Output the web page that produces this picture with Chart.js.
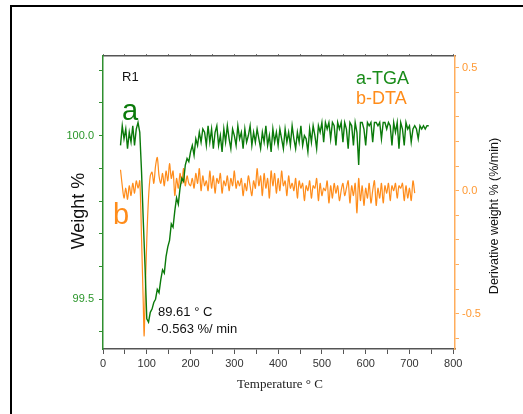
<!DOCTYPE html>
<html><head><meta charset="utf-8">
<script src="https://cdn.jsdelivr.net/npm/chart.js@4.4.1/dist/chart.umd.min.js"></script>
<style>html,body{margin:0;padding:0;background:#fff;}canvas{display:block;}</style>
</head><body>
<canvas id="c" width="523" height="414"></canvas>
<script>
// Temperature (°C) sample points
const temperature = [
  40,44,48,52,56,60,64,68,72,76,
  80,84,88,92,94,96,100,104,108,112,116,
  120,124,128,132,136,140,144,148,152,156,
  160,164,168,172,176,180,184,188,192,196,
  200,204,208,212,216,220,224,228,232,236,
  240,244,248,252,256,260,264,268,272,276,
  280,284,288,292,296,300,304,308,312,316,
  320,324,328,332,336,340,344,348,352,356,
  360,364,368,372,376,380,384,388,392,396,
  400,404,408,412,416,420,424,428,432,436,
  440,444,448,452,456,460,464,468,472,476,
  480,484,488,492,496,500,504,508,512,516,
  520,524,528,532,536,540,544,548,552,556,
  560,564,568,572,576,580,584,588,592,596,
  600,604,608,612,616,620,624,628,632,636,
  640,644,648,652,656,660,664,668,672,676,
  680,684,688,692,696,700,704,708,712,716,
  720,724,728,732,736,740,744
];
// a-TGA : Weight %
const tgaWeight = [
  99.97,100.03,99.99,100.02,99.96,100.01,99.98,100.03,99.97,100.02,
  100.04,100.01,99.89,99.74,99.67,99.60,99.44,99.43,99.46,99.47,99.49,
  99.50,99.53,99.52,99.56,99.59,99.58,99.63,99.66,99.68,99.73,
  99.72,99.77,99.81,99.79,99.84,99.87,99.86,99.91,99.93,99.92,
  99.95,99.97,99.94,99.99,99.97,100.01,99.98,100.02,100.01,99.97,
  100.03,99.98,100.02,99.96,100.01,100.03,99.97,100.00,99.95,100.02,
  99.98,100.03,99.99,99.96,100.02,100.00,99.97,100.03,99.99,100.01,
  99.96,100.02,99.98,100.00,100.03,99.97,100.01,99.98,100.02,99.99,
  99.96,100.01,99.98,100.03,99.97,100.00,99.95,100.02,99.98,100.01,
  99.97,100.02,99.99,99.96,100.02,99.98,100.01,99.97,100.03,99.99,
  99.96,100.01,99.98,100.03,99.97,100.00,99.99,99.95,100.02,99.98,
  100.03,100.00,99.96,100.03,100.01,100.04,99.98,100.04,100.02,100.04,
  99.99,100.04,100.03,99.97,100.04,100.02,100.04,99.98,100.04,100.02,
  99.96,100.04,100.03,99.97,100.04,100.01,99.91,100.04,100.04,100.02,
  99.97,100.04,100.03,100.04,99.98,100.04,100.04,100.03,100.04,99.99,
  100.04,100.04,100.02,100.04,100.03,99.97,100.04,100.01,100.04,99.96,
  100.04,100.02,99.97,100.04,100.02,100.03,99.98,100.02,100.03,100.02,
  99.99,100.03,100.02,100.03,100.02,100.03,100.03
];
// b-DTA : Derivative weight % (%/min)
const dtaDeriv = [
  0.085,0.02,-0.03,0.01,-0.035,0.02,-0.02,0.03,-0.01,0.04,
  0.01,0.04,-0.19,-0.46,-0.59,-0.45,-0.20,-0.03,0.06,0.075,0.03,
  0.10,0.135,0.06,0.03,0.07,0.02,0.08,0.04,0.11,0.05,
  0.08,-0.02,0.05,0.01,0.07,0.03,0.09,0.02,0.06,0.03,
  0.02,0.05,0.01,0.07,0.03,0.09,0.00,0.06,0.02,0.04,
  0.00,0.08,0.01,0.06,-0.01,0.05,0.03,0.07,-0.01,0.04,
  0.02,0.06,0.00,0.05,0.02,0.08,0.01,0.04,0.02,0.05,
  -0.02,0.03,0.00,0.06,0.02,-0.02,0.04,0.01,0.09,0.02,
  0.06,-0.02,0.07,0.01,0.05,-0.03,0.08,0.02,0.07,-0.01,
  0.05,0.00,0.08,0.02,0.04,-0.02,0.06,0.01,0.03,0.00,
  0.05,-0.03,0.04,0.01,0.03,-0.04,0.02,0.00,0.04,-0.03,
  0.02,0.01,0.05,-0.04,0.03,-0.02,0.01,0.00,0.04,-0.05,
  0.02,-0.03,0.03,-0.01,0.02,-0.04,0.00,0.03,-0.02,0.01,
  0.04,-0.05,0.02,-0.02,0.03,-0.09,0.05,-0.04,0.02,-0.06,
  0.01,-0.03,0.03,-0.05,0.00,0.04,-0.06,0.01,-0.03,0.03,
  -0.05,0.02,-0.01,0.03,-0.04,0.02,0.00,0.03,-0.03,0.02,
  0.01,0.03,-0.04,0.02,-0.03,0.01,-0.04,0.04,-0.01
];
const seriesNames = ['a-TGA', 'b-DTA'];
const xTickLabels = [0,100,200,300,400,500,600,700,800];
const weightTickLabels = [99.5, 100.0];
const derivTickLabels = [-0.5, 0.0, 0.5];

const GREEN = '#0a7a0a', GREEN_AX = '#2f8f2f', GREEN_TXT = '#2a962a';
const ORANGE = '#ff8c1a', ORANGE_AX = '#ffad5c', ORANGE_TXT = '#ff9933';

function ticksBetween(lo, hi, step) {
  const out = [];
  for (let k = Math.ceil(lo / step - 1e-9); k * step <= hi + 1e-9; k++) out.push(+(k * step).toFixed(4));
  return out;
}
const inList = (v, list) => list.some(t => Math.abs(t - v) < 1e-6);

Chart.defaults.font.family = "'Liberation Sans', Arial, sans-serif";

const decor = {
  id: 'decor',
  beforeDraw(chart) {
    const c = chart.ctx;
    c.save();
    c.fillStyle = '#fff';
    c.fillRect(0, 0, chart.width, chart.height);
    c.fillStyle = '#000';
    c.fillRect(10, 5, 2, chart.height - 5);
    c.fillRect(10, 5, chart.width - 10, 2);
    c.restore();
  },
  afterDraw(chart) {
    const c = chart.ctx;
    c.save();
    c.textBaseline = 'alphabetic';
    c.textAlign = 'left';
    c.fillStyle = '#111';
    c.font = "13px 'Liberation Sans', Arial, sans-serif";
    c.fillText('R1', 122, 81);
    c.fillStyle = GREEN;
    c.font = "29px 'Liberation Sans', Arial, sans-serif";
    c.fillText('a', 122, 120);
    c.fillStyle = ORANGE;
    c.fillText('b', 113, 224);
    c.font = "18px 'Liberation Sans', Arial, sans-serif";
    c.fillStyle = '#1a8c1a';
    c.fillText(seriesNames[0], 356, 84);
    c.fillStyle = ORANGE;
    c.fillText(seriesNames[1], 356, 104);
    c.fillStyle = '#111';
    c.font = "13px 'Liberation Sans', Arial, sans-serif";
    c.fillText('89.61 \u00b0 C', 158, 316);
    c.fillText('-0.563 %/ min', 157, 333);
    // axis titles
    c.textAlign = 'center';
    c.textBaseline = 'middle';
    c.font = "13px 'Liberation Serif', 'Times New Roman', serif";
    c.fillStyle = '#222';
    c.fillText('Temperature \u00b0 C', 280, 385);
    c.save();
    c.translate(79, 211);
    c.rotate(-Math.PI / 2);
    c.font = "18px 'Liberation Sans', Arial, sans-serif";
    c.fillStyle = '#111';
    c.fillText('Weight %', 0, 0);
    c.restore();
    c.save();
    c.translate(495, 216);
    c.rotate(-Math.PI / 2);
    c.font = "12.5px 'Liberation Sans', Arial, sans-serif";
    c.fillStyle = '#111';
    c.fillText('Derivative weight % (%/min)', 0, 0);
    c.restore();
    c.restore();
  }
};

new Chart(document.getElementById('c'), {
  type: 'line',
  data: {
    datasets: [
      {
        label: seriesNames[0],
        data: tgaWeight.map((v, i) => ({ x: temperature[i], y: v })),
        borderColor: GREEN, borderWidth: 1.4, pointRadius: 0, tension: 0,
        xAxisID: 'x', yAxisID: 'y'
      },
      {
        label: seriesNames[1],
        data: dtaDeriv.map((v, i) => ({ x: temperature[i], y: v })),
        borderColor: ORANGE, borderWidth: 1.2, pointRadius: 0, tension: 0.3,
        xAxisID: 'x', yAxisID: 'y1'
      }
    ]
  },
  options: {
    responsive: false,
    animation: false,
    events: [],
    layout: { padding: 0 },
    plugins: { legend: { display: false }, tooltip: { enabled: false } },
    scales: {
      x: {
        type: 'linear', position: 'bottom', min: 0, max: 804,
        afterBuildTicks: s => { s.ticks = ticksBetween(0, 800, 50).map(v => ({ value: v })); },
        afterFit: s => { s.height = 65; },
        ticks: {
          autoSkip: false, maxRotation: 0, color: '#333', padding: 3,
          font: { size: 11 },
          callback: v => inList(v, xTickLabels) ? String(v) : ''
        },
        grid: { drawOnChartArea: false, color: '#555', tickLength: 5, tickWidth: 1 },
        border: { color: '#555', width: 1.5 }
      },
      x2: {
        type: 'linear', axis: 'x', position: 'top', min: 0, max: 804,
        afterBuildTicks: s => { s.ticks = ticksBetween(0, 800, 50).map(v => ({ value: v })); },
        afterFit: s => { s.height = 56; },
        ticks: { display: false },
        grid: { drawOnChartArea: false, color: '#777', tickLength: 2 },
        border: { color: '#555', width: 1.5 }
      },
      y: {
        type: 'linear', position: 'left', min: 99.348, max: 100.243,
        afterBuildTicks: s => { s.ticks = ticksBetween(99.4, 100.2, 0.1).map(v => ({ value: v })); },
        afterFit: s => { s.width = 103; },
        ticks: {
          color: GREEN_TXT, padding: 5, font: { size: 11 },
          callback: v => inList(v, weightTickLabels) ? v.toFixed(1) : ''
        },
        grid: { drawOnChartArea: false, color: GREEN_AX, tickLength: 4 },
        border: { color: GREEN_AX, width: 1.5 }
      },
      y1: {
        type: 'linear', position: 'right', min: -0.643, max: 0.547,
        afterBuildTicks: s => { s.ticks = ticksBetween(-0.6, 0.5, 0.1).map(v => ({ value: v })); },
        afterFit: s => { s.width = 68; },
        ticks: {
          color: ORANGE_TXT, padding: 3, font: { size: 11 },
          callback: v => inList(v, derivTickLabels) ? v.toFixed(1) : ''
        },
        grid: { drawOnChartArea: false, color: ORANGE_AX, tickLength: 4 },
        border: { color: ORANGE_AX, width: 1.5 }
      }
    }
  },
  plugins: [decor]
});
</script>
</body></html>
